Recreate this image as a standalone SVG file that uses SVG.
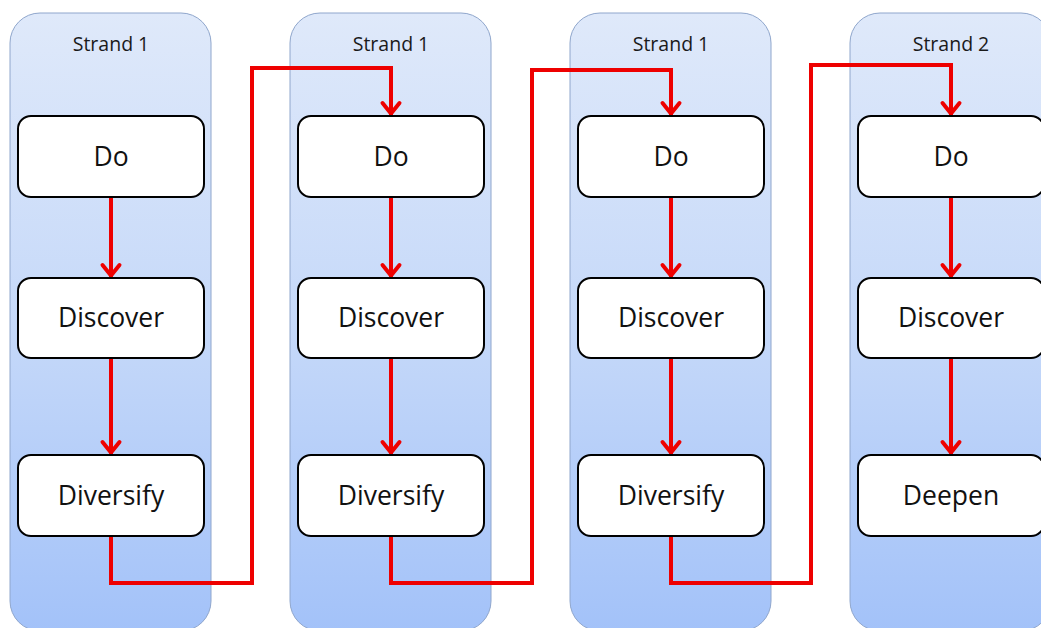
<svg xmlns="http://www.w3.org/2000/svg" width="1041" height="628" viewBox="0 0 1041 628">
  <defs>
    <linearGradient id="laneFill" x1="0" y1="0" x2="0" y2="1">
      <stop offset="0" stop-color="#dfe9fa"/>
      <stop offset="0.5" stop-color="#c6d9f9"/>
      <stop offset="1" stop-color="#a3c2f9"/>
    </linearGradient>
    <marker id="chev" viewBox="-16 -12 20 24" markerWidth="20" markerHeight="24" markerUnits="userSpaceOnUse" refX="0" refY="0" orient="auto">
      <path d="M-12,-8.5 L-1.5,0 L-12,8.5" fill="none" stroke="#ee0000" stroke-width="4" stroke-linecap="round" stroke-linejoin="miter"/>
    </marker>
  </defs>
  <style>
    .lane { fill: url(#laneFill); stroke: #8fa6cc; stroke-width: 1; }
    .title { font-family: "Open Sans", "Liberation Sans", sans-serif; font-size: 19.5px; fill: #1a1a1a; text-anchor: middle; }
    .box { fill: #ffffff; stroke: #000000; stroke-width: 2; }
    .lbl { font-family: "Open Sans", "Liberation Sans", sans-serif; font-size: 26.5px; fill: #111111; text-anchor: middle; }
    .wire { fill: none; stroke: #ee0000; stroke-width: 4; stroke-linejoin: miter; marker-end: url(#chev); }
  </style>

  <rect width="1041" height="628" fill="#ffffff"/>

  <!-- swimlanes -->
  <g id="lane1"><rect class="lane" x="10" y="13" width="201" height="618" rx="30"/><text class="title" x="111" y="51">Strand 1</text></g>
  <g id="lane2"><rect class="lane" x="290" y="13" width="201" height="618" rx="30"/><text class="title" x="391" y="51">Strand 1</text></g>
  <g id="lane3"><rect class="lane" x="570" y="13" width="201" height="618" rx="30"/><text class="title" x="671" y="51">Strand 1</text></g>
  <g id="lane4"><rect class="lane" x="850" y="13" width="201" height="618" rx="30"/><text class="title" x="951" y="51">Strand 2</text></g>

  <!-- connectors -->
  <g id="connectors">
    <path class="wire" d="M111,197 V277"/>
    <path class="wire" d="M111,358 V454"/>
    <path class="wire" d="M111,536 V583 H252 V68 H391 V115"/>
    <path class="wire" d="M391,197 V277"/>
    <path class="wire" d="M391,358 V454"/>
    <path class="wire" d="M391,536 V583 H532 V70 H671 V115"/>
    <path class="wire" d="M671,197 V277"/>
    <path class="wire" d="M671,358 V454"/>
    <path class="wire" d="M671,536 V583 H811 V65 H951 V115"/>
    <path class="wire" d="M951,197 V277"/>
    <path class="wire" d="M951,358 V454"/>
  </g>

  <!-- strand 1, pass 1 -->
  <g id="s1a-do"><rect class="box" x="18" y="116" width="186" height="81" rx="13"/><text class="lbl" x="111" y="166">Do</text></g>
  <g id="s1a-discover"><rect class="box" x="18" y="278" width="186" height="80" rx="13"/><text class="lbl" x="111" y="327">Discover</text></g>
  <g id="s1a-diversify"><rect class="box" x="18" y="455" width="186" height="81" rx="13"/><text class="lbl" x="111" y="505">Diversify</text></g>

  <!-- strand 1, pass 2 -->
  <g id="s1b-do"><rect class="box" x="298" y="116" width="186" height="81" rx="13"/><text class="lbl" x="391" y="166">Do</text></g>
  <g id="s1b-discover"><rect class="box" x="298" y="278" width="186" height="80" rx="13"/><text class="lbl" x="391" y="327">Discover</text></g>
  <g id="s1b-diversify"><rect class="box" x="298" y="455" width="186" height="81" rx="13"/><text class="lbl" x="391" y="505">Diversify</text></g>

  <!-- strand 1, pass 3 -->
  <g id="s1c-do"><rect class="box" x="578" y="116" width="186" height="81" rx="13"/><text class="lbl" x="671" y="166">Do</text></g>
  <g id="s1c-discover"><rect class="box" x="578" y="278" width="186" height="80" rx="13"/><text class="lbl" x="671" y="327">Discover</text></g>
  <g id="s1c-diversify"><rect class="box" x="578" y="455" width="186" height="81" rx="13"/><text class="lbl" x="671" y="505">Diversify</text></g>

  <!-- strand 2 -->
  <g id="s2-do"><rect class="box" x="858" y="116" width="186" height="81" rx="13"/><text class="lbl" x="951" y="166">Do</text></g>
  <g id="s2-discover"><rect class="box" x="858" y="278" width="186" height="80" rx="13"/><text class="lbl" x="951" y="327">Discover</text></g>
  <g id="s2-deepen"><rect class="box" x="858" y="455" width="186" height="81" rx="13"/><text class="lbl" x="951" y="505">Deepen</text></g>
</svg>
